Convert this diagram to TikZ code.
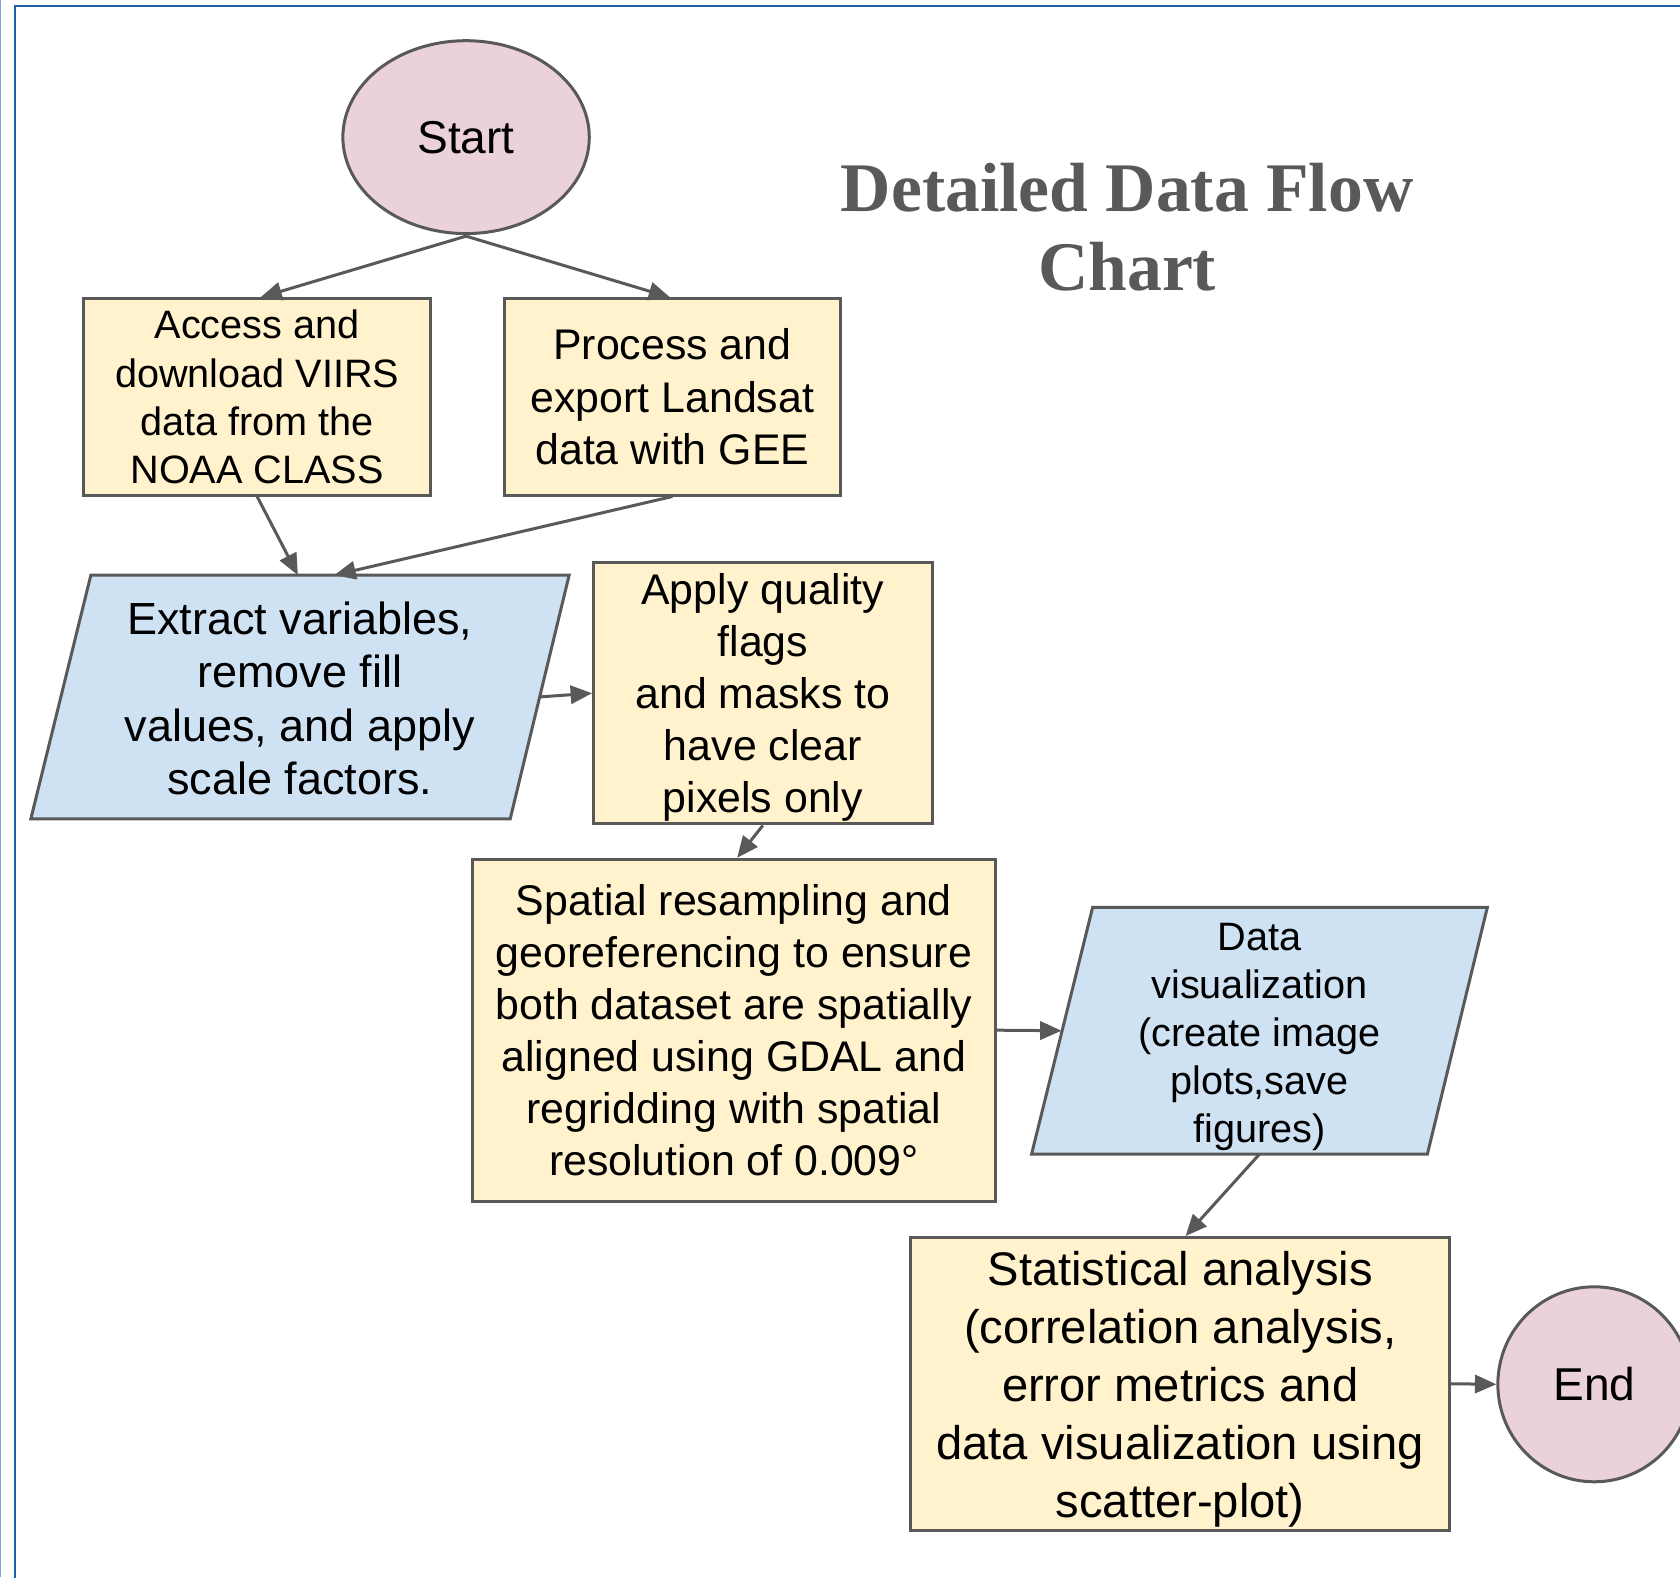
\documentclass[tikz,border=0pt]{standalone}
\usepackage{fontspec}
\setmainfont{Liberation Sans}
\newfontfamily\titlefont{Liberation Serif}
\usetikzlibrary{arrows.meta,backgrounds,shapes.geometric}
\definecolor{edge}{HTML}{595959}
\definecolor{pinkfill}{HTML}{EAD1DC}
\definecolor{yellowfill}{HTML}{FFF2CC}
\definecolor{bluefill}{HTML}{CFE2F3}
\definecolor{framecol}{HTML}{1F5FA3}
\begin{document}
\begin{tikzpicture}[x=1pt,y=-1pt,
  procbox/.style={draw=edge, fill=yellowfill, line width=2.8pt, inner sep=0pt, align=center},
  iobox/.style={inner sep=0pt, align=center},
  para/.style={draw=edge, fill=bluefill, line width=2.8pt, line join=miter},
  term/.style={ellipse, draw=edge, fill=pinkfill, line width=2.8pt, inner sep=0pt},
  flow/.style={draw=edge, line width=2.8pt, -{Triangle[length=20pt,width=17pt]}}
]
\useasboundingbox (0,0) rectangle (1568,1472);
% frame
\draw[framecol!55, line width=1.2pt] (0.6,0) -- (0.6,1472);
\draw[framecol, line width=2pt] (14,1480) -- (14,5.6) -- (1580,5.6);

% title
\node[font=\titlefont\bfseries\fontsize{65}{74}\selectfont, text=edge, align=center] (title) at (1052,212) {Detailed Data Flow\\Chart};

% nodes
\node[term, minimum width=230pt, minimum height=180pt, font=\fontsize{43}{50}\selectfont] (start) at (435,128) {Start};
\node[procbox, minimum width=324pt, minimum height=183pt, font=\fontsize{37}{45}\selectfont] (A) at (240,370.5) {Access and\\download VIIRS\\data from the\\NOAA CLASS};
\node[procbox, minimum width=313pt, minimum height=183pt, font=\fontsize{40}{49}\selectfont] (B) at (627.5,370.5) {Process and\\export Landsat\\data with GEE};
\node[iobox, minimum width=502pt, minimum height=227pt, font=\fontsize{42}{50}\selectfont] (C) at (280,650.5) {\rule{0pt}{33pt}Extract variables,\\remove fill\\values, and apply\\scale factors.};
\node[procbox, minimum width=316pt, minimum height=244pt, font=\fontsize{40}{48.5}\selectfont] (D) at (712,647) {\rule{0pt}{37pt}Apply quality\\flags\\and masks to\\have clear\\pixels only};
\node[procbox, minimum width=488pt, minimum height=319pt, font=\fontsize{40}{48.6}\selectfont] (E) at (685,961.5) {Spatial resampling and\\georeferencing to ensure\\both dataset are spatially\\aligned using GDAL and\\regridding with spatial\\resolution of 0.009°};
\node[iobox, minimum width=425pt, minimum height=230pt, font=\fontsize{37}{45}\selectfont] (F) at (1175.5,962) {\rule{0pt}{37pt}Data\\visualization\\(create image\\plots,save\\figures)};
\node[procbox, minimum width=503pt, minimum height=273pt, font=\fontsize{44}{54}\selectfont] (G) at (1101.5,1291.5) {\rule{0pt}{42pt}Statistical analysis\\(correlation analysis,\\error metrics and\\data visualization using\\scatter-plot)};
\node[term, minimum width=180pt, minimum height=182pt, font=\fontsize{43}{50}\selectfont] (endn) at (1488,1292) {End};

% parallelogram outlines
\begin{scope}[on background layer]
\draw[para] ([xshift=56pt]C.north west) -- (C.north east) -- ([xshift=-55pt]C.south east) -- (C.south west) -- cycle;
\draw[para] ([xshift=57pt]F.north west) -- (F.north east) -- ([xshift=-56pt]F.south east) -- (F.south west) -- cycle;
\end{scope}

% connectors
\draw[flow] ([yshift=-1pt]start.south) -- ([xshift=3pt]A.north);
\draw[flow] ([yshift=-1pt]start.south) -- ([xshift=-2pt]B.north);
\draw[flow] (A.south) -- ([xshift=-2pt]C.north);
\draw[flow] (B.south) -- ([xshift=32pt]C.north);
\draw[flow] ([xshift=-28pt]C.east) -- (D.west);
\draw[flow] (D.south) -- ([xshift=3pt]E.north);
\draw[flow] (E.east) -- ([xshift=28pt]F.west);
\draw[flow] (F.south) -- ([xshift=5pt]G.north);
\draw[flow] (G.east) -- (endn.west);
\end{tikzpicture}
\end{document}
